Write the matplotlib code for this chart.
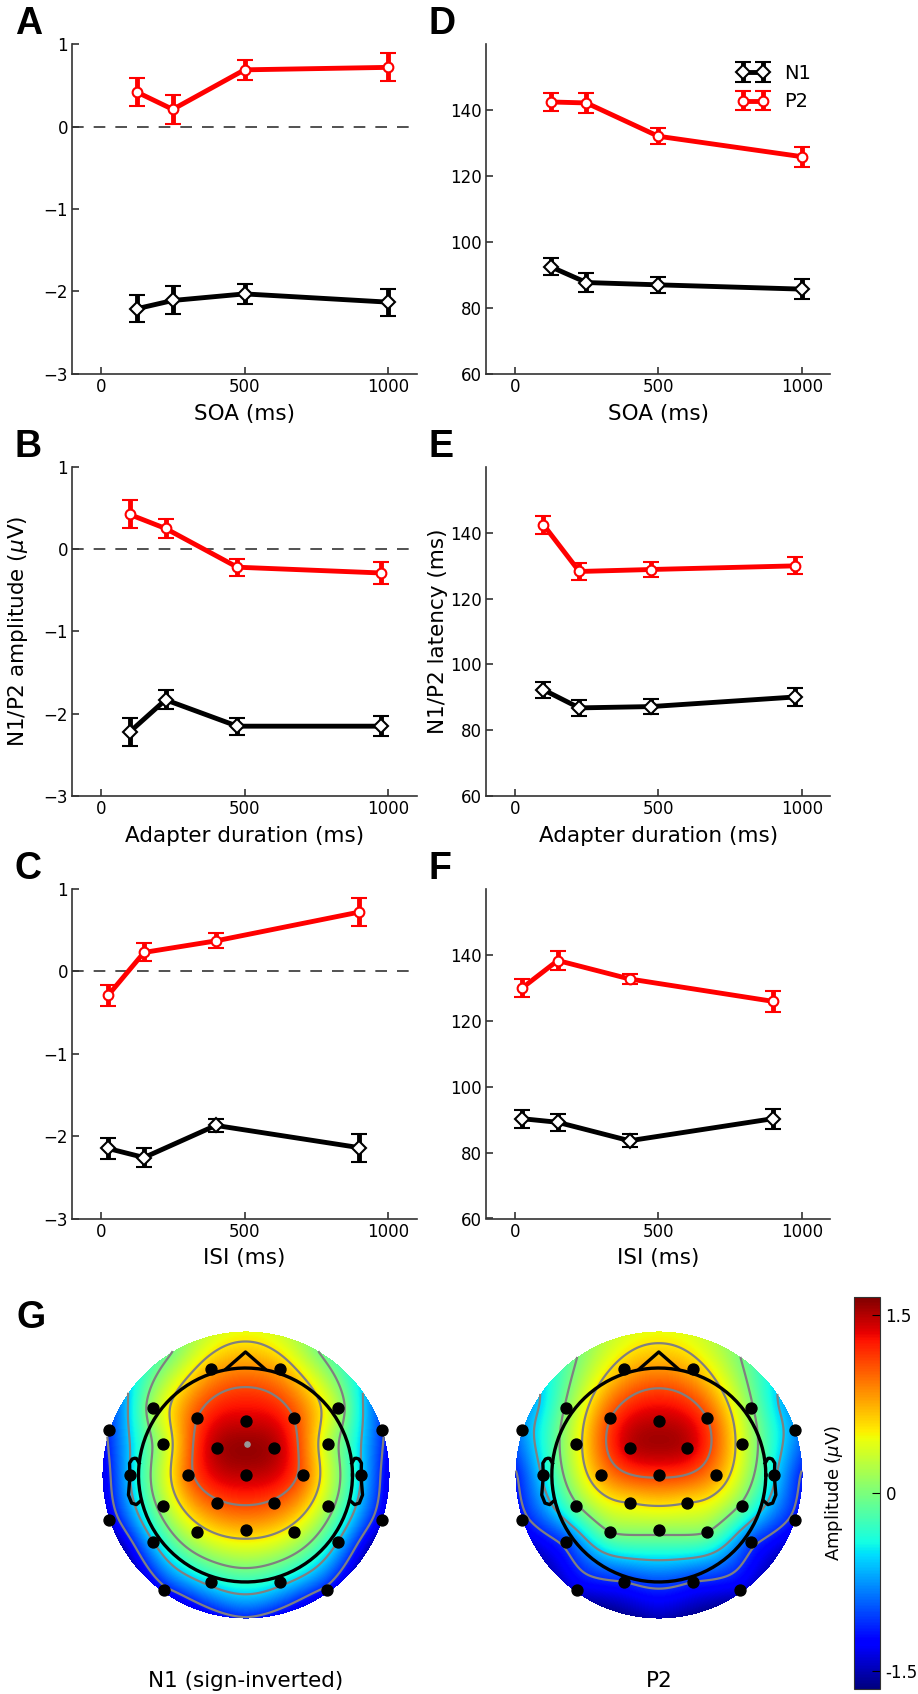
import numpy as np
import matplotlib.pyplot as plt

# stimulus timing conditions (ms)
soa = [125, 250, 500, 1000]
adapter_dur = [100, 225, 475, 975]
isi = [25, 150, 400, 900]

# N1 / P2 amplitudes (uV), mean and SEM
n1_amp_soa = [-2.21, -2.11, -2.03, -2.13]
n1_amp_soa_err = [0.165, 0.17, 0.12, 0.165]
p2_amp_soa = [0.42, 0.21, 0.69, 0.72]
p2_amp_soa_err = [0.165, 0.175, 0.125, 0.17]

n1_amp_dur = [-2.22, -1.83, -2.15, -2.15]
n1_amp_dur_err = [0.165, 0.115, 0.105, 0.125]
p2_amp_dur = [0.42, 0.25, -0.22, -0.29]
p2_amp_dur_err = [0.17, 0.11, 0.105, 0.13]

n1_amp_isi = [-2.15, -2.26, -1.87, -2.14]
n1_amp_isi_err = [0.13, 0.11, 0.08, 0.17]
p2_amp_isi = [-0.29, 0.23, 0.37, 0.72]
p2_amp_isi_err = [0.13, 0.11, 0.09, 0.17]

# N1 / P2 peak latencies (ms), mean and SEM
n1_lat_soa = [92.5, 87.7, 87.0, 85.7]
n1_lat_soa_err = [2.5, 2.9, 2.5, 3.0]
p2_lat_soa = [142.5, 142.2, 132.1, 125.9]
p2_lat_soa_err = [2.8, 2.9, 2.5, 3.0]

n1_lat_dur = [92.3, 86.8, 87.2, 90.1]
n1_lat_dur_err = [2.5, 2.5, 2.2, 2.6]
p2_lat_dur = [142.4, 128.2, 128.8, 129.9]
p2_lat_dur_err = [2.7, 2.6, 2.2, 2.6]

n1_lat_isi = [90.3, 89.2, 83.6, 90.3]
n1_lat_isi_err = [2.75, 2.6, 1.9, 3.0]
p2_lat_isi = [129.9, 138.3, 132.7, 125.9]
p2_lat_isi_err = [2.7, 2.8, 1.6, 3.1]

# electrode layout (head radius = 1)
ch_names = ['Fp1', 'Fp2', 'F7', 'F3', 'Fz', 'F4', 'F8', 'FT9', 'FT10',
            'FC5', 'FC1', 'FC2', 'FC6', 'T7', 'C3', 'Cz', 'C4', 'T8',
            'TP9', 'CP5', 'CP1', 'CP2', 'CP6', 'TP10',
            'P7', 'P3', 'Pz', 'P4', 'P8', 'O1', 'O2', 'PO9', 'PO10']
ch_x = [-0.324, 0.324, -0.863, -0.452, 0.0, 0.452, 0.863, -1.277, 1.277,
        -0.773, -0.265, 0.265, 0.773, -1.081, -0.536, 0.0, 0.536, 1.081,
        -1.277, -0.773, -0.265, 0.265, 0.773, 1.277,
        -0.863, -0.452, 0.0, 0.452, 0.863, -0.324, 0.324, -0.763, 0.763]
ch_y = [0.988, 0.988, 0.629, 0.530, 0.508, 0.530, 0.629, 0.421, 0.421,
        0.287, 0.255, 0.255, 0.287, 0.0, 0.0, 0.0, 0.0, 0.0,
        -0.421, -0.290, -0.259, -0.259, -0.290, -0.421,
        -0.623, -0.536, -0.514, -0.536, -0.623, -0.997, -0.997, -1.075, -1.075]

# grand-average scalp amplitudes at each electrode (uV)
n1_topo = [0.75, 0.75, 0.2, 1.1, 1.4, 1.1, 0.2, -1.05, -1.05,
           0.25, 1.5, 1.5, 0.25, -0.55, 1.0, 1.45, 1.0, -0.55,
           -1.35, 0.15, 1.05, 1.05, 0.15, -1.35,
           -0.55, 0.4, 0.7, 0.4, -0.55, -0.45, -0.45, -1.2, -1.2]
p2_topo = [0.7, 0.7, 0.05, 1.1, 1.45, 1.1, 0.05, -0.75, -0.75,
           0.4, 1.45, 1.45, 0.4, -0.5, 0.8, 1.15, 0.8, -0.5,
           -1.2, -0.05, 0.55, 0.55, -0.05, -1.2,
           -1.0, 0.0, 0.1, 0.0, -1.0, -1.1, -1.1, -1.35, -1.35]
# values on the rim of the interpolation disc, clockwise from the front
rim_angle = [0, 30, 60, 90, 120, 150, 180, 210, 240, 270, 300, 330]
n1_rim = [0.45, 0.0, -0.75, -1.35, -1.5, -1.35, -1.15, -1.35, -1.5, -1.35, -0.75, 0.0]
p2_rim = [0.45, 0.1, -0.65, -1.15, -1.4, -1.5, -1.5, -1.5, -1.4, -1.15, -0.65, 0.1]
ref_pos = (0.016, 0.287)

W, H = 918, 1694
fig = plt.figure(figsize=(W / 100, H / 100), dpi=100)


def px_axes(left, top, w, h):
    return fig.add_axes([left / W, 1 - (top + h) / H, w / W, h / H])


def style_axes(ax):
    for s in ['top', 'right']:
        ax.spines[s].set_visible(False)
    for s in ['left', 'bottom']:
        ax.spines[s].set_color('#333333')
        ax.spines[s].set_linewidth(1.2)
    ax.tick_params(direction='in', length=5, width=1.2, color='#333333',
                   labelsize=12, pad=3)
    ax.set_xlim(-100, 1100)
    ax.set_xticks([0, 500, 1000])


def draw_pair(ax, x, n1, n1e, p2, p2e):
    kw = dict(lw=3.5, elinewidth=3.5, capsize=6, capthick=1.5, mfc='w', mew=1.5)
    ax.errorbar(x, n1, yerr=n1e, color='k', marker='D', ms=7.5, mec='k',
                label='N1', zorder=3, **kw)
    ax.errorbar(x, p2, yerr=p2e, color='r', marker='o', ms=7, mec='r',
                label='P2', zorder=3, **kw)


panels = [
    ('A', (72.3, 44.3), soa, n1_amp_soa, n1_amp_soa_err, p2_amp_soa, p2_amp_soa_err, 'SOA (ms)', 'amp'),
    ('B', (72.3, 466.7), adapter_dur, n1_amp_dur, n1_amp_dur_err, p2_amp_dur, p2_amp_dur_err, 'Adapter duration (ms)', 'amp'),
    ('C', (72.3, 889), isi, n1_amp_isi, n1_amp_isi_err, p2_amp_isi, p2_amp_isi_err, 'ISI (ms)', 'amp'),
    ('D', (486, 44.3), soa, n1_lat_soa, n1_lat_soa_err, p2_lat_soa, p2_lat_soa_err, 'SOA (ms)', 'lat'),
    ('E', (486, 466.7), adapter_dur, n1_lat_dur, n1_lat_dur_err, p2_lat_dur, p2_lat_dur_err, 'Adapter duration (ms)', 'lat'),
    ('F', (486, 889), isi, n1_lat_isi, n1_lat_isi_err, p2_lat_isi, p2_lat_isi_err, 'ISI (ms)', 'lat'),
]

letter_font = dict(family=['Liberation Sans', 'DejaVu Sans'], fontweight='bold', fontsize=27,
                   va='top', ha='left')

for letter, (left, top), x, n1, n1e, p2, p2e, xlabel, kind in panels:
    ax = px_axes(left, top, 344.4, 329.5)
    style_axes(ax)
    draw_pair(ax, x, n1, n1e, p2, p2e)
    if kind == 'amp':
        ax.axhline(0, color='#333333', lw=1.2, dashes=(7, 6), zorder=1)
        ax.set_ylim(-3, 1)
        ax.set_yticks([-3, -2, -1, 0, 1])
        if letter == 'B':
            ax.set_ylabel('N1/P2 amplitude ($\\mu$V)', fontsize=15.5)
            ax.yaxis.set_label_coords(-0.123, 0.5)
    else:
        ax.set_ylim(60, 160)
        ax.set_yticks([60, 80, 100, 120, 140])
        if letter == 'E':
            ax.set_ylabel('N1/P2 latency (ms)', fontsize=15.5)
            ax.yaxis.set_label_coords(-0.11, 0.5)
        if letter == 'D':
            ax.legend(loc='upper right', bbox_to_anchor=(1.0, 1.0), frameon=False,
                      numpoints=2, handlelength=1.6, fontsize=14, borderaxespad=0.6)
    ax.set_xlabel(xlabel, fontsize=15.5)
    ax.xaxis.set_label_coords(0.5, -0.091)
    fig.text((left - 57.5) / W, 1 - (top - 38) / H, letter, **letter_font)


def biharmonic(xe, ye, v, xq, yq, smooth=0.004):
    # Sandwell biharmonic spline (green function r^2 (ln r - 1))
    xe, ye, v = np.asarray(xe), np.asarray(ye), np.asarray(v)
    d = np.hypot(xe[:, None] - xe[None, :], ye[:, None] - ye[None, :])
    with np.errstate(divide='ignore', invalid='ignore'):
        g = np.where(d > 0, d ** 2 * (np.log(d) - 1), 0.0)
    w = np.linalg.solve(g + smooth * np.eye(len(v)), v)
    dq = np.hypot(xq[..., None] - xe, yq[..., None] - ye)
    with np.errstate(divide='ignore', invalid='ignore'):
        gq = np.where(dq > 0, dq ** 2 * (np.log(dq) - 1), 0.0)
    return gq @ w


vmin, vmax = -1.65, 1.65
disc_r = 1.346
lim = 1.402
grid = np.linspace(-lim, lim, 300)
gx, gy = np.meshgrid(grid, grid)
outside = np.hypot(gx, gy) > disc_r
levels = np.linspace(vmin, vmax, 7)[1:-1]

rim_rad = np.deg2rad(rim_angle)
pts_x = list(ch_x) + list(disc_r * np.sin(rim_rad))
pts_y = list(ch_y) + list(disc_r * np.cos(rim_rad))

# head outline pieces
theta = np.linspace(0, 2 * np.pi, 200)
nose_x = np.array([0.18, 0.0, -0.18])
nose_y = np.array([0.9926, 1.15, 0.9926])
ear_x = np.array([.497, .510, .518, .5299, .5419, .54, .547, .532, .510, .489]) * 2
ear_y = np.array([.0555, .0775, .0783, .0746, .0555, -.0055, -.0932, -.1313, -.1384, -.1199]) * 2


def draw_topo(cx, values, rim, title, show_ref):
    ax = px_axes(cx - 150, 1325, 300, 300)
    z = biharmonic(pts_x, pts_y, list(values) + list(rim), gx, gy)
    z = np.ma.masked_where(outside, z)
    im = ax.imshow(z, origin='lower', extent=(-lim, lim, -lim, lim), cmap='jet',
                   vmin=vmin, vmax=vmax, interpolation='bilinear')
    ax.contour(gx, gy, z, levels=levels, colors='gray', linewidths=1.6, linestyles='solid')
    ax.plot(np.cos(theta), np.sin(theta), color='k', lw=2.4)
    ax.plot(nose_x, nose_y, color='k', lw=2.4)
    ax.plot(ear_x, ear_y, color='k', lw=2.4)
    ax.plot(-ear_x, ear_y, color='k', lw=2.4)
    ax.scatter(ch_x, ch_y, s=62, color='k', zorder=4)
    if show_ref:
        ax.scatter([ref_pos[0]], [ref_pos[1]], s=14, color='#999999', zorder=4)
    ax.set_xlim(-lim, lim)
    ax.set_ylim(-lim, lim)
    ax.set_aspect('equal')
    ax.axis('off')
    fig.text(cx / W, 1 - 1681 / H, title, ha='center', va='center', fontsize=15.5)
    return im


im = draw_topo(245.5, n1_topo, n1_rim, 'N1 (sign-inverted)', True)
draw_topo(658.8, p2_topo, p2_rim, 'P2', False)
fig.text(16 / W, 1 - (1306.7 - 7) / H, 'G', **letter_font)

cax = px_axes(854, 1297, 26, 392)
cb = fig.colorbar(im, cax=cax, ticks=[-1.5, 0, 1.5])
cb.ax.set_yticklabels(['-1.5', '0', '1.5'])
cb.ax.tick_params(direction='in', length=6, labelsize=12, pad=4)
cb.outline.set_edgecolor('#333333')
cb.set_label('Amplitude ($\\mu$V)', fontsize=13)
cb.ax.yaxis.set_label_position('left')
cb.ax.yaxis.set_label_coords(-0.35, 0.5)

fig.savefig('out.png', dpi=100)
